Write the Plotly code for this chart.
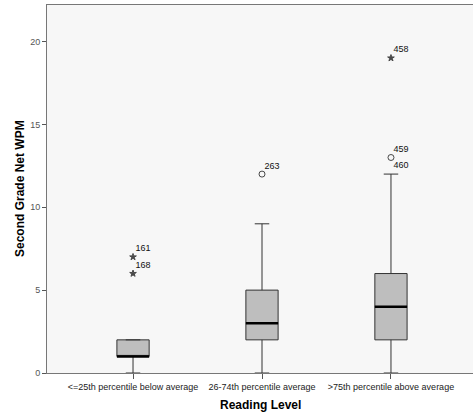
import plotly.graph_objects as go

categories = ["<=25th percentile below average", "26-74th percentile average", ">75th percentile above average"]
q1 = [1, 2, 2]
median = [1, 3, 4]
q3 = [2, 5, 6]
lower_whisker = [0, 0, 0]
upper_whisker = [2, 9, 12]

outlier_group = [0, 0, 1, 2, 2]
outlier_value = [7, 6, 12, 19, 13]
outlier_label = ["161", "168", "263", "458", "459"]
outlier_extreme = [True, True, False, True, False]

extra_label_group = [2]
extra_label_value = [12.5]
extra_label_text = ["460"]

y_ticks = [0, 5, 10, 15, 20]

box_half = 0.125

fig = go.Figure()
fig.add_trace(go.Box(
    x=[0, 1, 2], q1=q1, median=median, q3=q3,
    lowerfence=lower_whisker, upperfence=upper_whisker,
    fillcolor="#bebebe", line=dict(color="#333333", width=1),
    width=0.25, whiskerwidth=0.45, boxpoints=False, showlegend=False,
    hoverinfo="skip",
))

for i, m in enumerate(median):
    fig.add_shape(type="line", xref="x", yref="y",
                  x0=i - box_half, x1=i + box_half, y0=m, y1=m,
                  line=dict(color="black", width=2.5))

sym = ["star" if e else "circle-open" for e in outlier_extreme]
fig.add_trace(go.Scatter(
    x=outlier_group, y=outlier_value, mode="markers",
    marker=dict(symbol=sym, size=[5 if e else 6 for e in outlier_extreme],
                color="black", line=dict(color="black", width=1)),
    showlegend=False, hoverinfo="skip",
))
fig.add_trace(go.Scatter(
    x=[g + 0.02 for g in outlier_group], y=[v + 0.2 for v in outlier_value],
    mode="text", text=outlier_label, textposition="top right",
    textfont=dict(family="Arial", size=9, color="#111111"),
    showlegend=False, hoverinfo="skip",
))
fig.add_trace(go.Scatter(
    x=[g + 0.02 for g in extra_label_group], y=extra_label_value,
    mode="text", text=extra_label_text, textposition="middle right",
    textfont=dict(family="Arial", size=9, color="#111111"),
    showlegend=False, hoverinfo="skip",
))

fig.update_layout(
    width=473, height=418,
    margin=dict(l=47, r=0, t=5, b=45, autoexpand=False),
    paper_bgcolor="white", plot_bgcolor="#f7f7f7",
    font=dict(family="Arial", size=9, color="#222222"),
    annotations=[
        dict(text="<b>Reading Level</b>", xref="paper", yref="paper", x=0.5, y=0,
             yshift=-32, showarrow=False, xanchor="center", yanchor="middle",
             font=dict(family="Arial", size=12, color="black")),
        dict(text="<b>Second Grade Net WPM</b>", xref="paper", yref="paper", x=0, y=0.5,
             xshift=-27, showarrow=False, xanchor="center", yanchor="middle", textangle=-90,
             font=dict(family="Arial", size=12, color="black")),
    ],
)
fig.update_xaxes(
    range=[-0.667, 2.636], tickmode="array", tickvals=[0, 1, 2], ticktext=categories,
    ticks="outside", ticklen=5, tickcolor="#555555", automargin=False,
    showline=True, linecolor="#777777", linewidth=1, mirror=True,
    showgrid=False, zeroline=False,
    tickfont=dict(family="Arial", size=9, color="#222222"),
)
fig.update_yaxes(
    range=[0, 22.2], tickvals=y_ticks,
    ticks="outside", ticklen=4, tickcolor="#555555", automargin=False,
    showline=True, linecolor="#777777", linewidth=1, mirror=True,
    showgrid=False, zeroline=False,
    tickfont=dict(family="Arial", size=9, color="#555555"),
)

fig.write_html("out.html", config={"displayModeBar": False},
               post_script="document.body.style.margin='0';document.body.style.overflow='hidden';")
